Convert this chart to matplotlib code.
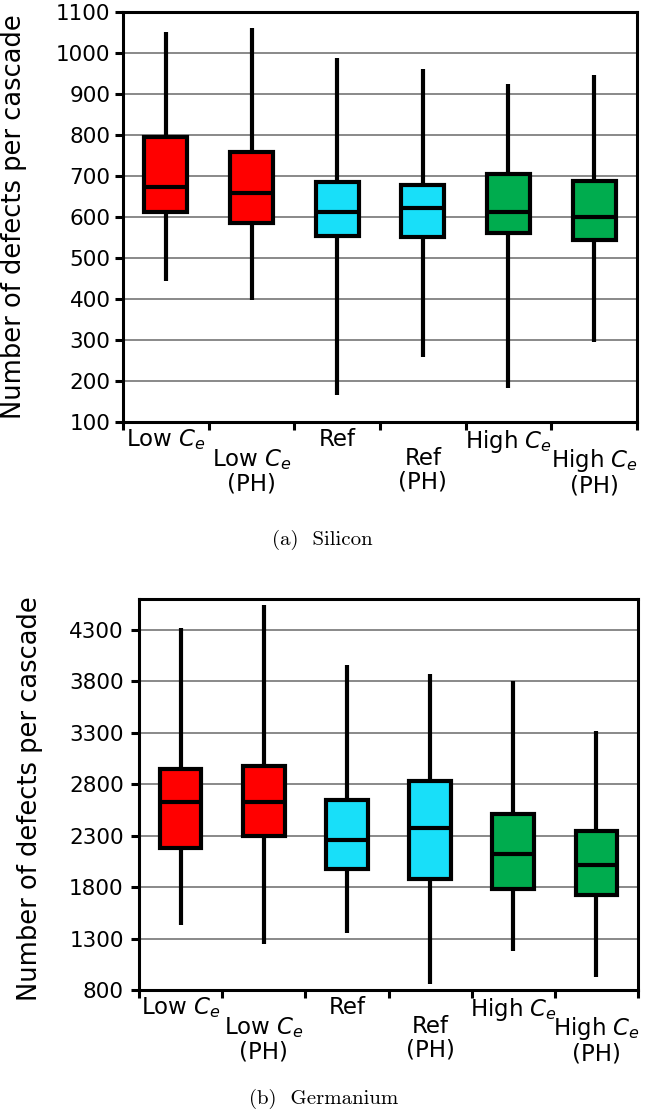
import numpy as np
import matplotlib
matplotlib.use('Agg')
import matplotlib.pyplot as plt

categories = ["Low $C_e$", "Low $C_e$\n(PH)", "Ref", "Ref\n(PH)",
              "High $C_e$", "High $C_e$\n(PH)"]
box_colors = ['#ff0000', '#ff0000', '#18dff9', '#18dff9', '#00ac4e', '#00ac4e']

# Silicon
si_whislo = [445, 398, 167, 258, 182, 296]
si_q1 = [611, 586, 554, 552, 560, 544]
si_med = [672, 658, 611, 621, 611, 601]
si_q3 = [796, 758, 686, 678, 705, 689]
si_whishi = [1052, 1060, 989, 960, 924, 946]
si_yticks = [100, 200, 300, 400, 500, 600, 700, 800, 900, 1000, 1100]

# Germanium
ge_whislo = [1427, 1244, 1353, 854, 1183, 929]
ge_q1 = [2183, 2295, 1980, 1878, 1786, 1719]
ge_med = [2624, 2624, 2261, 2370, 2125, 2014]
ge_q3 = [2946, 2973, 2651, 2834, 2515, 2346]
ge_whishi = [4315, 4541, 3963, 3871, 3800, 3319]
ge_yticks = [800, 1300, 1800, 2300, 2800, 3300, 3800, 4300]


def draw_panel(ax, whislo, q1, med, q3, whishi, ylim, yticks, label_xy, ypad):
    stats = []
    for i in range(len(categories)):
        stats.append(dict(whislo=whislo[i], q1=q1[i], med=med[i],
                          q3=q3[i], whishi=whishi[i], fliers=[]))
    pos = np.arange(len(categories)) + 0.5
    bp = ax.bxp(stats, positions=pos, widths=0.5, patch_artist=True,
                showcaps=False, showfliers=False, manage_ticks=False,
                boxprops=dict(linewidth=3, edgecolor='black'),
                medianprops=dict(linewidth=3, color='black'),
                whiskerprops=dict(linewidth=3, color='black', solid_capstyle='butt'))
    for patch, c in zip(bp['boxes'], box_colors):
        patch.set_facecolor(c)
        patch.set_joinstyle('miter')

    ax.set_xlim(0, len(categories))
    ax.set_ylim(*ylim)
    ax.set_yticks(yticks)
    ax.set_xticks(np.arange(len(categories) + 1))
    ax.set_xticklabels([])
    ax.set_xticks(pos, minor=True)
    ax.set_xticklabels(categories, minor=True, fontsize=16.5)
    ax.tick_params(axis='x', which='major', direction='out', length=6, width=2.2)
    ax.tick_params(axis='x', which='minor', length=0, pad=4)
    ax.tick_params(axis='y', direction='out', length=6, width=2.2, labelsize=15.5, pad=ypad)
    for i, t in enumerate(ax.xaxis.get_minor_ticks()):
        if i % 2 == 1:
            t.set_pad(18)
    for lab in ax.get_xticklabels(minor=True):
        lab.set_linespacing(1.05)

    ax.yaxis.grid(True, color='#808080', linewidth=1.3)
    ax.set_axisbelow(True)
    for s in ax.spines.values():
        s.set_linewidth(2.2)
    ax.set_ylabel('Number of defects per cascade', fontsize=18.5)
    ax.yaxis.set_label_coords(*label_xy)


fig = plt.figure(figsize=(6.47, 11.13), dpi=100)
ax1 = fig.add_axes([123 / 647, (1113 - 422) / 1113, 514 / 647, 410 / 1113])
ax2 = fig.add_axes([139 / 647, (1113 - 990) / 1113, 499 / 647, 391 / 1113])

draw_panel(ax1, si_whislo, si_q1, si_med, si_q3, si_whishi,
           (100, 1100), si_yticks, (-0.187, 0.5), 3)
draw_panel(ax2, ge_whislo, ge_q1, ge_med, ge_q3, ge_whishi,
           (800, 4600), ge_yticks, (-0.192, 0.49), 5)

fig.text(322 / 647, 1 - 540 / 1113, '(a)  Silicon', fontfamily='cmr10',
         fontsize=15, ha='center', va='center')
fig.text(324 / 647, 1 - 1099 / 1113, '(b)  Germanium', fontfamily='cmr10',
         fontsize=15, ha='center', va='center')

fig.savefig('out.png', dpi=100)
